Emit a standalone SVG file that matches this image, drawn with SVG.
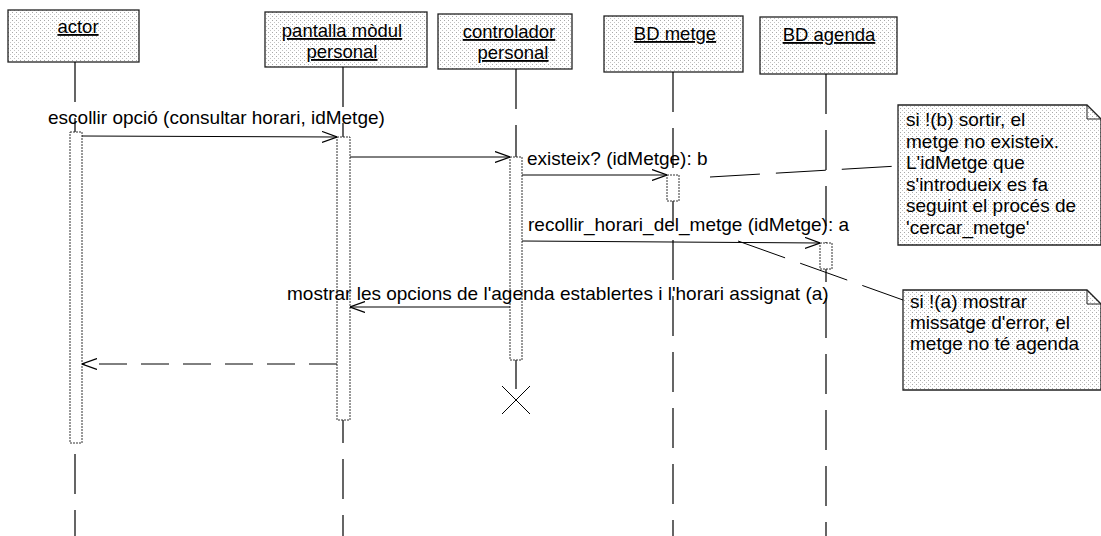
<svg xmlns="http://www.w3.org/2000/svg" width="1101" height="536" viewBox="0 0 1101 536">
<defs>
  <pattern id="dots" width="4" height="4" patternUnits="userSpaceOnUse">
    <rect width="4" height="4" fill="#ffffff"/>
    <rect x="0" y="0" width="1" height="1" fill="#a8a8a8"/>
    <rect x="2" y="2" width="1" height="1" fill="#c4c4c4"/>
  </pattern>
  <marker id="open" viewBox="0 0 15 12" refX="15" refY="6" markerWidth="15" markerHeight="12" markerUnits="userSpaceOnUse" orient="auto">
    <path d="M0,0.5 L15,6 L0,11.5" fill="none" stroke="#000" stroke-width="1.2"/>
  </marker>
</defs>
<style>
  .box { fill: url(#dots); stroke: #222; stroke-width: 1.3; }
  .hd { font-family: "Liberation Sans", Arial, sans-serif; font-size: 18.5px; text-anchor: middle; text-decoration: underline; fill: #000; }
  .lbl { font-family: "Liberation Sans", Arial, sans-serif; font-size: 19px; fill: #000; }
  .life { stroke: #000; stroke-width: 1.2; stroke-dasharray: 40 16; fill: none; }
  .act { fill: #fff; stroke: #333; stroke-width: 1; stroke-dasharray: 2 1; }
  .msg { stroke: #000; stroke-width: 1; fill: none; marker-end: url(#open); }
  .ret { stroke: #000; stroke-width: 1; fill: none; stroke-dasharray: 28 14; marker-end: url(#open); }
  .link { stroke: #000; stroke-width: 1; fill: none; stroke-dasharray: 50 16; }
</style>
<rect width="1101" height="536" fill="#fff"/>

<g id="actor">
  <rect class="box" x="8" y="10" width="131" height="52"/>
  <text class="hd" x="78" y="33">actor</text>
  <line class="life" x1="75" y1="62" x2="75" y2="536"/>
  <rect class="act" x="70" y="132" width="12" height="311"/>
</g>

<g id="pantalla">
  <rect class="box" x="265" y="12" width="162" height="55"/>
  <text class="hd" x="342" y="37">pantalla mòdul</text>
  <text class="hd" x="342" y="58">personal</text>
  <line class="life" x1="343" y1="67" x2="343" y2="536"/>
  <rect class="act" x="337" y="137" width="13" height="283"/>
</g>

<g id="controlador">
  <rect class="box" x="438" y="14" width="134" height="55"/>
  <text class="hd" x="509" y="38">controlador</text>
  <text class="hd" x="513" y="59">personal</text>
  <line class="life" x1="516" y1="69" x2="516" y2="400"/>
  <rect class="act" x="510" y="157" width="12" height="203"/>
  <path d="M502,386 L530,414 M530,386 L502,414" stroke="#000" stroke-width="1" fill="none"/>
</g>

<g id="bdmetge">
  <rect class="box" x="604" y="16" width="139" height="56"/>
  <text class="hd" x="675" y="40">BD metge</text>
  <line class="life" x1="673" y1="72" x2="673" y2="536"/>
  <rect class="act" x="667" y="175" width="12" height="26"/>
</g>

<g id="bdagenda">
  <rect class="box" x="760" y="17" width="137" height="57"/>
  <text class="hd" x="829" y="41">BD agenda</text>
  <line class="life" x1="826" y1="74" x2="826" y2="536"/>
  <rect class="act" x="820" y="243" width="12" height="26"/>
</g>

<g id="note1">
  <path class="box" d="M898,105 H1087 L1101,119 V245 H898 Z"/>
  <path d="M1087,105 V119 H1101" fill="none" stroke="#222" stroke-width="1"/>
  <text class="lbl" x="906" y="126">si !(b) sortir, el</text>
  <text class="lbl" x="906" y="147.6">metge no existeix.</text>
  <text class="lbl" x="906" y="169.2">L'idMetge que</text>
  <text class="lbl" x="906" y="190.8">s'introdueix es fa</text>
  <text class="lbl" x="906" y="212.4">seguint el procés de</text>
  <text class="lbl" x="906" y="234">'cercar_metge'</text>
</g>

<g id="note2">
  <path class="box" d="M903,290 H1087 L1101,304 V390 H903 Z"/>
  <path d="M1087,290 V304 H1101" fill="none" stroke="#222" stroke-width="1"/>
  <text class="lbl" x="910" y="308">si !(a) mostrar</text>
  <text class="lbl" x="910" y="329">missatge d'error, el</text>
  <text class="lbl" x="910" y="350">metge no té agenda</text>
</g>

<g id="connectors">
  <line class="msg" x1="82" y1="136" x2="337" y2="137"/>
  <text class="lbl" x="48" y="124">escollir opció (consultar horari, idMetge)</text>
  <line class="msg" x1="350" y1="157" x2="510" y2="157"/>
  <line class="msg" x1="522" y1="175" x2="667" y2="175"/>
  <text class="lbl" x="527" y="165">existeix? (idMetge): b</text>
  <line class="msg" x1="522" y1="241" x2="820" y2="243"/>
  <text class="lbl" x="528" y="231">recollir_horari_del_metge (idMetge): a</text>
  <line class="msg" x1="510" y1="307" x2="350" y2="307"/>
  <text class="lbl" x="287" y="300">mostrar les opcions de l'agenda establertes i l'horari assignat (a)</text>
  <line class="ret" x1="337" y1="364" x2="82" y2="364"/>
  <line class="link" x1="710" y1="177" x2="898" y2="166"/>
  <line class="link" x1="738" y1="241" x2="903" y2="300"/>
</g>
</svg>
